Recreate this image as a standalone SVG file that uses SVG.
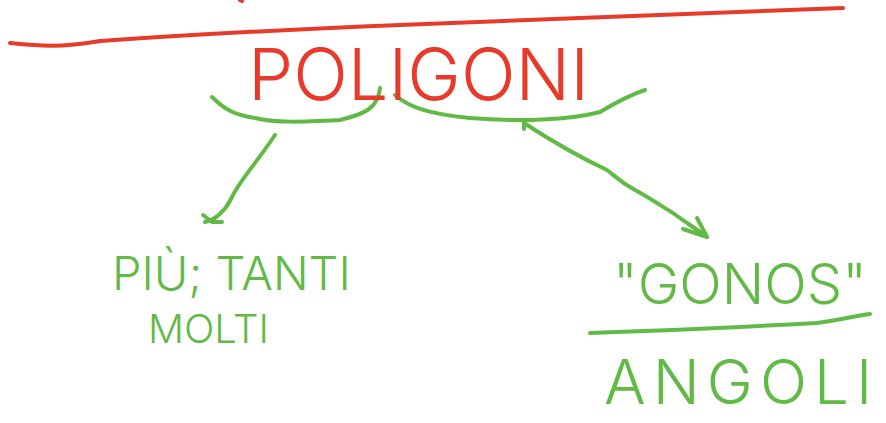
<svg xmlns="http://www.w3.org/2000/svg" width="886" height="423" viewBox="0 0 886 423">
<style>
.red{stroke:#e83a2b;fill:none;stroke-width:4;stroke-linecap:round;stroke-linejoin:round}
.grn{stroke:#62ba46;fill:none;stroke-width:4;stroke-linecap:round;stroke-linejoin:round}
.t{font-family:Inter,Lato,"DejaVu Sans","Liberation Sans",sans-serif;font-weight:300}
.tr{fill:#e83a2b}
.tg{fill:#62ba46}
</style>
<rect width="886" height="423" fill="#ffffff"/>
<g id="decor">
<path class="red" d="M240,0 L242,1"/>
<path class="red" d="M10,43 C40,46 60,48 100,41 C200,34 300,29 400,25 C550,18 700,14 843,8"/>
<path class="grn" d="M212,97 C225,110 235,115 255,118 C275,123 300,122 340,120 C365,114 378,108 380,88"/>
<path class="grn" d="M395,95 C410,108 430,114 470,118 C520,122 570,120 600,112 C620,100 630,95 645,90"/>
<path class="grn" d="M590,333 C680,330 760,326 817,323 C840,320 855,316 870,314"/>
</g>
<g id="connectors">
<path class="grn" d="M275,135 C255,165 240,180 232,197 C228,205 224,212 212,220"/>
<path class="grn" d="M203,215 L212,222 L222,222" stroke-width="5"/>
<path class="grn" d="M205,222 L214,219"/>
<path class="grn" d="M524,123 C550,140 575,155 607,170 C615,176 620,182 635,190 C650,198 663,207 673,213 C685,222 695,228 707,237"/>
<path class="grn" d="M683,229 L707,237 L697,218"/>
<path class="grn" d="M524,129 L524,120 L533,120"/>
</g>
<g id="node-poligoni">
<text class="t tr" x="248" y="100" font-size="72">POLIGONI</text>
</g>
<g id="node-piu">
<text class="t tg" x="112" y="290" font-size="47">PIÙ; TANTI</text>
<text class="t tg" x="148" y="343" font-size="40">MOLTI</text>
</g>
<g id="node-gonos">
<text class="t tg" x="613" y="304" font-size="56">"GONOS"</text>
<text class="t tg" x="604" y="404" font-size="62" letter-spacing="7">ANGOLI</text>
</g>
</svg>
